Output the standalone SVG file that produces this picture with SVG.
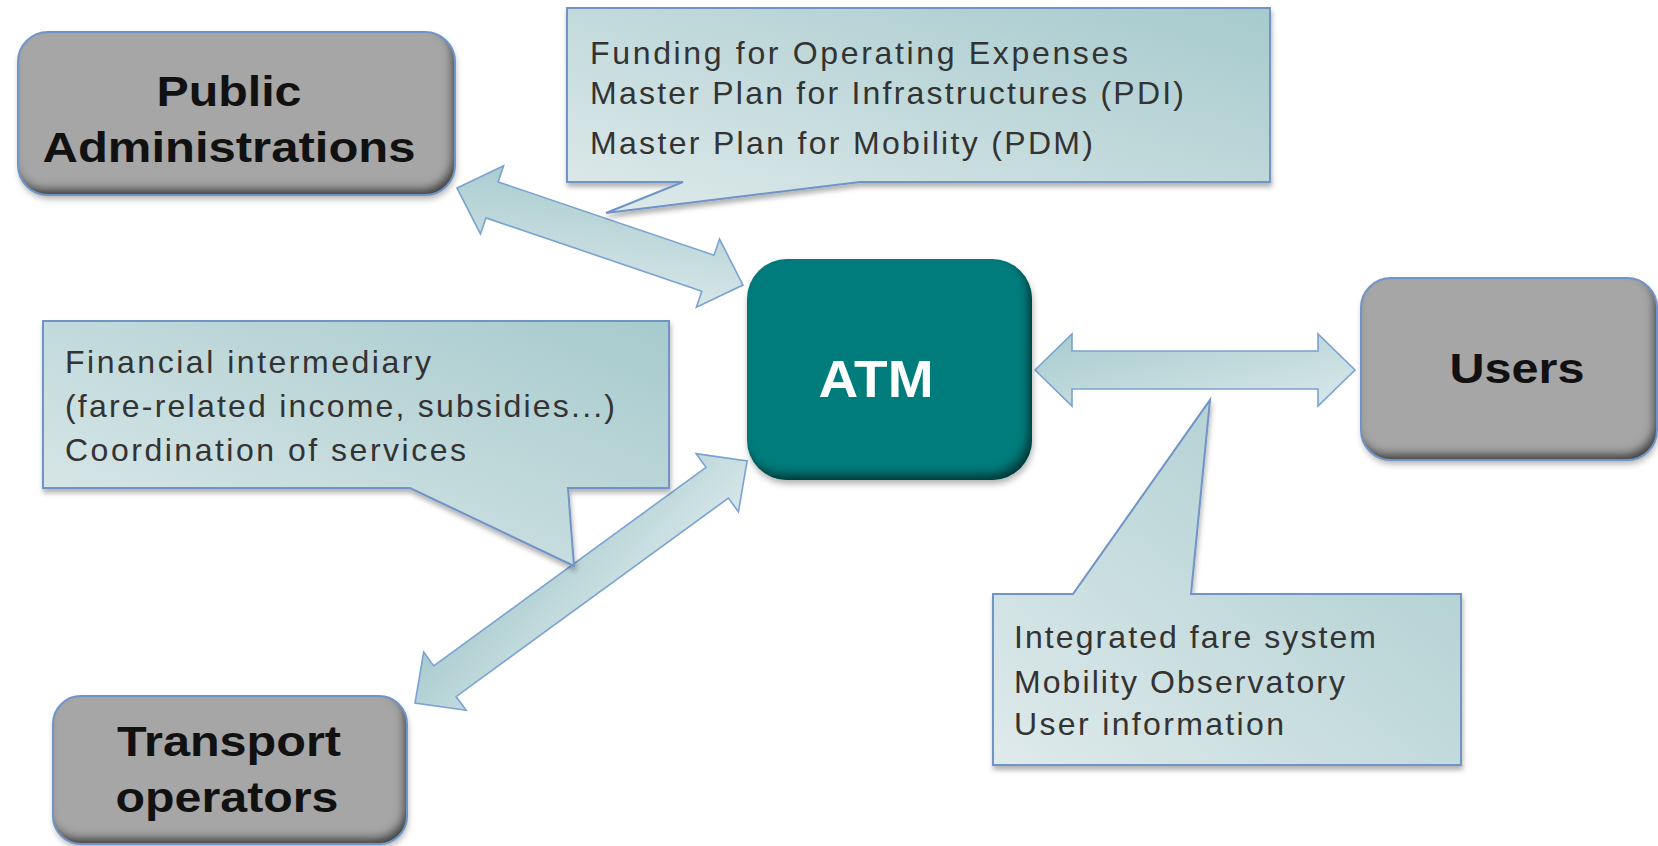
<svg xmlns="http://www.w3.org/2000/svg" width="1658" height="846" viewBox="0 0 1658 846">
<defs>
<style>
.lbl{font-family:"Liberation Sans",Arial,sans-serif;font-weight:bold;fill:#111;text-anchor:middle}
.atm{font-family:"Liberation Sans",Arial,sans-serif;font-weight:bold;fill:#fff;text-anchor:middle}
.ct{font-family:"Liberation Sans",Arial,sans-serif;font-size:32px;fill:#333}
.edge{fill:none;stroke:#6f94c6;stroke-width:2}
.call{fill:url(#cg);stroke:#6f94c6;stroke-width:2;filter:url(#cs)}
.arr{fill:url(#ag);stroke:#7aa2d2;stroke-width:1.6;stroke-linejoin:miter}
</style>
<linearGradient id="cg" x1="0" y1="1" x2="1" y2="0">
<stop offset="0" stop-color="#dfeaeb"/>
<stop offset="1" stop-color="#a6cacd"/>
</linearGradient>
<linearGradient id="ag" x1="0" y1="0" x2="1" y2="1">
<stop offset="0" stop-color="#a7cbce"/>
<stop offset="1" stop-color="#dae8ea"/>
</linearGradient>
<filter id="cs" x="-5%" y="-10%" width="110%" height="125%">
<feGaussianBlur in="SourceAlpha" stdDeviation="2.5" result="b"/>
<feOffset in="b" dx="1" dy="4" result="o"/>
<feFlood flood-color="#000" flood-opacity="0.3"/>
<feComposite in2="o" operator="in" result="s"/>
<feMerge><feMergeNode in="s"/><feMergeNode in="SourceGraphic"/></feMerge>
</filter>
<filter id="gb" x="-10%" y="-10%" width="125%" height="130%">
<feOffset in="SourceAlpha" dx="-4" dy="-7" result="o"/>
<feGaussianBlur in="o" stdDeviation="4" result="b"/>
<feComposite in="SourceAlpha" in2="b" operator="out" result="e"/>
<feFlood flood-color="#252525" flood-opacity="0.9"/>
<feComposite in2="e" operator="in" result="inner"/>
<feGaussianBlur in="SourceAlpha" stdDeviation="3" result="sb"/>
<feOffset in="sb" dx="1" dy="4" result="so"/>
<feFlood flood-color="#000" flood-opacity="0.3"/>
<feComposite in2="so" operator="in" result="outer"/>
<feMerge><feMergeNode in="outer"/><feMergeNode in="SourceGraphic"/><feMergeNode in="inner"/></feMerge>
</filter>
<filter id="tb" x="-10%" y="-10%" width="125%" height="130%">
<feOffset in="SourceAlpha" dx="-5" dy="-7" result="o"/>
<feGaussianBlur in="o" stdDeviation="4" result="b"/>
<feComposite in="SourceAlpha" in2="b" operator="out" result="e"/>
<feFlood flood-color="#002e2e" flood-opacity="0.9"/>
<feComposite in2="e" operator="in" result="inner"/>
<feGaussianBlur in="SourceAlpha" stdDeviation="3" result="sb"/>
<feOffset in="sb" dx="1" dy="4" result="so"/>
<feFlood flood-color="#000" flood-opacity="0.3"/>
<feComposite in2="so" operator="in" result="outer"/>
<feMerge><feMergeNode in="outer"/><feMergeNode in="SourceGraphic"/><feMergeNode in="inner"/></feMerge>
</filter>
</defs>
<rect width="1658" height="846" fill="#fff"/>

<g id="connectors">
<polygon class="arr" points="0,0 37,-36 37,-19 265,-19 265,-36 302,0 265,36 265,19 37,19 37,36" transform="translate(457,188) rotate(18.74)"/>
<polygon class="arr" points="0,0 37,-36 37,-19 283,-19 283,-36 320,0 283,36 283,19 37,19 37,36" transform="translate(1035,370)"/>
<polygon class="arr" points="0,0 37,-36 37,-19 374,-19 374,-36 411,0 374,36 374,19 37,19 37,36" transform="translate(415,703) rotate(-36.09)"/>
</g>

<g id="callout-top">
<path class="call" d="M567,8 H1270 V182 H860 L606,213 L683,182 H567 Z"/>
<text class="ct" x="590" y="64" textLength="538" lengthAdjust="spacing">Funding for Operating Expenses</text>
<text class="ct" x="590" y="104" textLength="594" lengthAdjust="spacing">Master Plan for Infrastructures (PDI)</text>
<text class="ct" x="590" y="154" textLength="503" lengthAdjust="spacing">Master Plan for Mobility (PDM)</text>
</g>

<g id="callout-left">
<path class="call" d="M43,321 H669 V488 H568 L574,566 L410,488 H43 Z"/>
<text class="ct" x="65" y="373" textLength="366" lengthAdjust="spacing">Financial intermediary</text>
<text class="ct" x="65" y="417" textLength="550" lengthAdjust="spacing">(fare-related income, subsidies...)</text>
<text class="ct" x="65" y="461" textLength="401" lengthAdjust="spacing">Coordination of services</text>
</g>

<g id="callout-right">
<path class="call" d="M993,594 H1073 L1210,400 L1191,594 H1461 V765 H993 Z"/>
<text class="ct" x="1014" y="648" textLength="362" lengthAdjust="spacing">Integrated fare system</text>
<text class="ct" x="1014" y="693" textLength="331" lengthAdjust="spacing">Mobility Observatory</text>
<text class="ct" x="1014" y="735" textLength="270" lengthAdjust="spacing">User information</text>
</g>

<g id="node-public-administrations">
<rect x="18" y="32" width="437" height="163" rx="30" fill="#a6a6a6" filter="url(#gb)"/>
<rect class="edge" x="18" y="32" width="437" height="163" rx="30"/>
<text class="lbl" x="229" y="106" font-size="43" textLength="145" lengthAdjust="spacingAndGlyphs">Public</text>
<text class="lbl" x="229" y="162" font-size="43" textLength="373" lengthAdjust="spacingAndGlyphs">Administrations</text>
</g>

<g id="node-atm">
<rect x="747" y="259" width="285" height="221" rx="40" fill="#007b7b" filter="url(#tb)"/>
<text class="atm" x="876" y="397" font-size="52" textLength="115" lengthAdjust="spacingAndGlyphs">ATM</text>
</g>

<g id="node-users">
<rect x="1361" y="278" width="296" height="182" rx="30" fill="#a6a6a6" filter="url(#gb)"/>
<rect class="edge" x="1361" y="278" width="296" height="182" rx="30"/>
<text class="lbl" x="1517" y="383" font-size="42" textLength="135" lengthAdjust="spacingAndGlyphs">Users</text>
</g>

<g id="node-transport-operators">
<rect x="53" y="696" width="354" height="148" rx="28" fill="#a6a6a6" filter="url(#gb)"/>
<rect class="edge" x="53" y="696" width="354" height="148" rx="28"/>
<text class="lbl" x="229" y="756" font-size="43" textLength="224" lengthAdjust="spacingAndGlyphs">Transport</text>
<text class="lbl" x="227" y="812" font-size="43" textLength="223" lengthAdjust="spacingAndGlyphs">operators</text>
</g>
</svg>
